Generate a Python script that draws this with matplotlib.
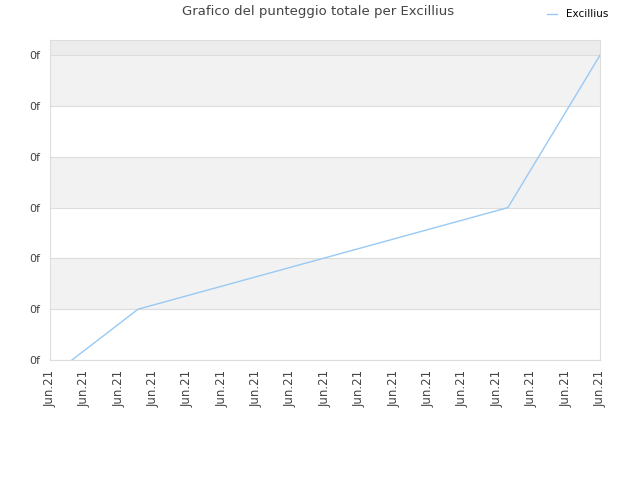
import matplotlib
matplotlib.use("Agg")
import matplotlib.pyplot as plt

# data
x_pos = [0.64, 2.56, 13.32, 16.0]
score = [0, 1, 3, 6]
x_labels = ["Jun.21"] * 17
y_labels = ["0f"] * 7

fig = plt.figure(figsize=(6.4, 4.8), dpi=100)
ax = fig.add_axes([50/640, 120/480, 550/640, 320/480])

# alternating bands
for i in range(6):
    if i % 2 == 1:
        ax.axhspan(i, i + 1, color="#f2f2f2", zorder=0, lw=0)
ax.axhspan(6, 6.3, color="#ececec", zorder=0, lw=0)
for i in range(7):
    ax.axhline(i, color="#dddddd", lw=0.8, zorder=1)

ax.plot(x_pos, score, color="#99c9f5", lw=1, zorder=3, label="Excillius")

ax.set_xlim(0, 16)
ax.set_ylim(0, 6.3)
ax.set_xticks(range(17))
ax.set_xticklabels(x_labels, rotation=90, fontsize=8.5, color="#444444")
ax.set_yticks(range(7))
ax.set_yticklabels(y_labels, fontsize=8, color="#444444")
ax.tick_params(length=0, pad=7)
for s in ax.spines.values():
    s.set_color("#dddddd")
    s.set_linewidth(0.8)

fig.text(318/640, 1 - 12/480, "Grafico del punteggio totale per Excillius",
         ha="center", va="center", fontsize=9.5, color="#444444")
fig.legend(loc="upper right", bbox_to_anchor=(618/640, 1.0), frameon=False,
           fontsize=7.5, handlelength=0.9, handletextpad=0.9)

fig.savefig("out.png", dpi=100)
